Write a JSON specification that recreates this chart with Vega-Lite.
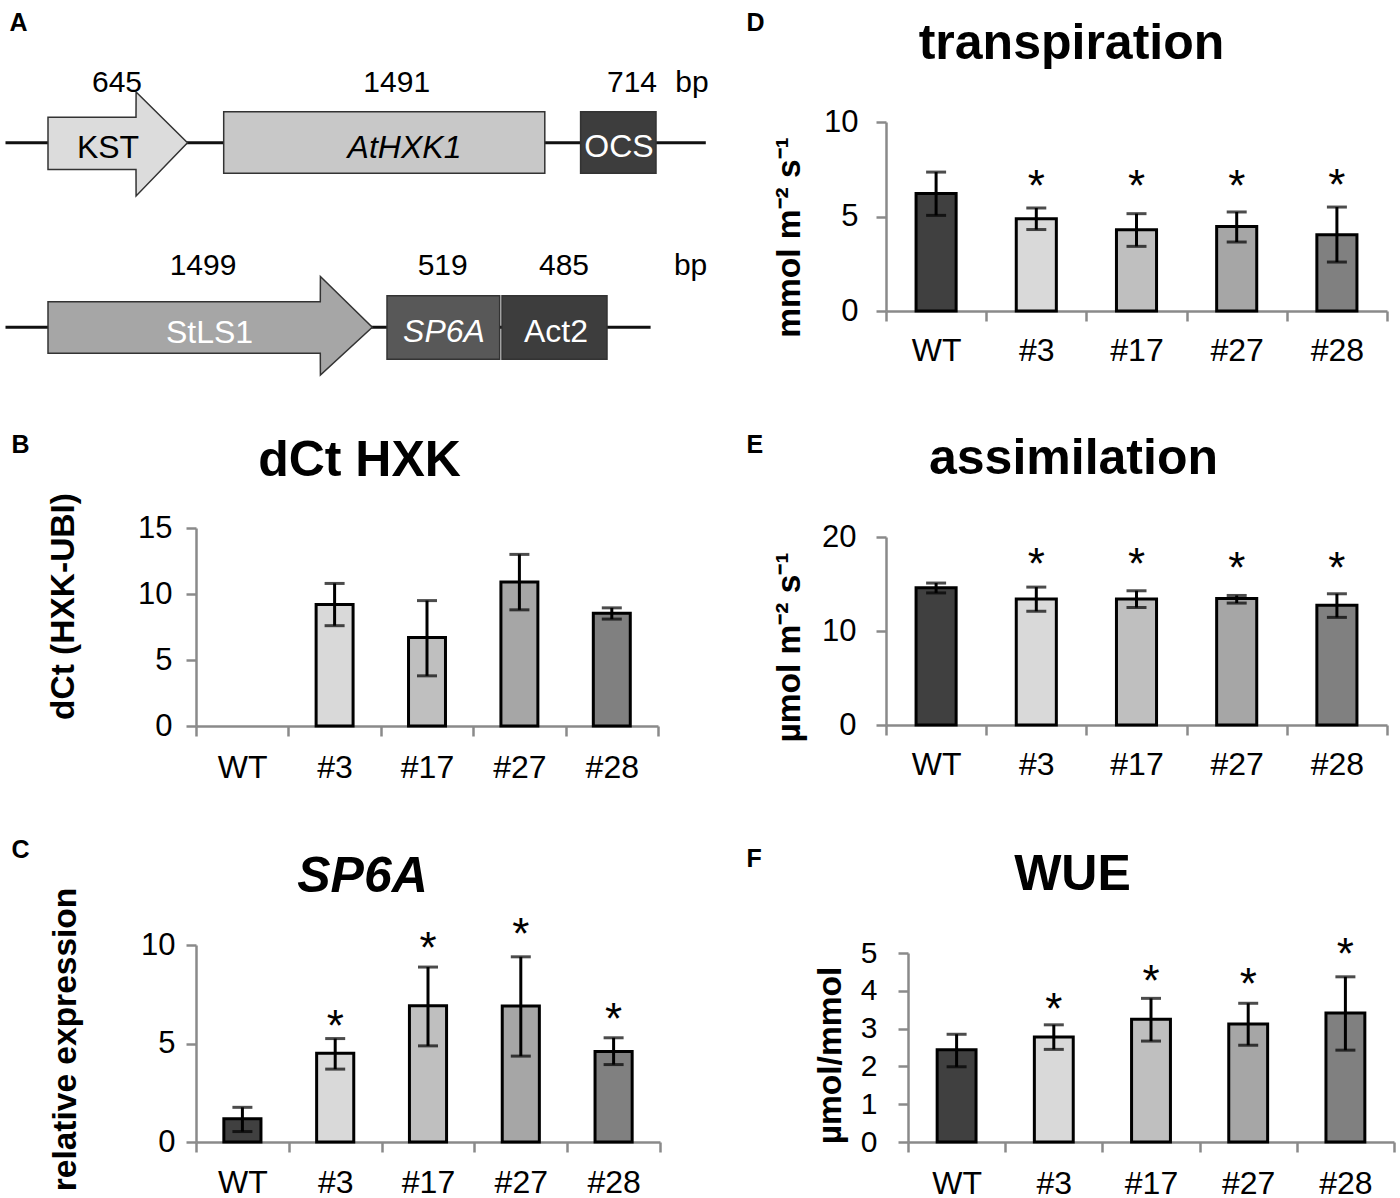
{
  "$schema": "https://vega.github.io/schema/vega-lite/v6.json",
  "background": "white",
  "padding": {"left": 4, "top": 10, "right": 5, "bottom": 5},
  "config": {
    "view": {"stroke": null},
    "font": "Liberation Sans",
    "axis": {
      "grid": false,
      "domainColor": "#8a8a8a",
      "domainWidth": 2.5,
      "tickColor": "#8a8a8a",
      "tickWidth": 2.5,
      "tickSize": 10,
      "labelFont": "Liberation Sans",
      "labelFontSize": 31,
      "labelColor": "#000",
      "labelOverlap": false,
      "labelFlush": false,
      "titleFont": "Liberation Sans",
      "titleColor": "#000",
      "titleFontWeight": "bold"
    },
    "axisX": {"labelAngle": 0, "labelFontSize": 32}
  },
  "datasets": {
    "backbone": [
      {"row": "upper", "start": 3.5, "end": 703.8, "y": 142.8},
      {"row": "lower", "start": 3.5, "end": 648.6, "y": 327.3}
    ],
    "arrows": [
      {"part": "KST", "x": 46, "top": 117.3, "bottom": 169.5},
      {"part": "KST", "x": 134, "top": 117.3, "bottom": 169.5},
      {"part": "KST", "x": 134.1, "top": 92, "bottom": 196},
      {"part": "KST", "x": 185.5, "top": 142.8, "bottom": 142.8},
      {"part": "StLS1", "x": 46, "top": 301.7, "bottom": 353.3},
      {"part": "StLS1", "x": 318.3, "top": 301.7, "bottom": 353.3},
      {"part": "StLS1", "x": 318.4, "top": 276.5, "bottom": 375},
      {"part": "StLS1", "x": 370.3, "top": 327.3, "bottom": 327.3}
    ],
    "boxes": [
      {"part": "AtHXK1", "start": 221.7, "end": 542.8, "top": 111.7, "bottom": 173.3},
      {"part": "OCS", "start": 578.6, "end": 654, "top": 111.7, "bottom": 173.3},
      {"part": "SP6A", "start": 385, "end": 497.7, "top": 295.7, "bottom": 359.3},
      {"part": "Act2", "start": 500, "end": 605, "top": 295.7, "bottom": 359.3}
    ],
    "names": [
      {"part": "KST", "x": 106, "y": 158, "italic": false},
      {"part": "AtHXK1", "x": 402.5, "y": 158, "italic": true},
      {"part": "OCS", "x": 617, "y": 157, "italic": false},
      {"part": "StLS1", "x": 207.5, "y": 343, "italic": false},
      {"part": "SP6A", "x": 442, "y": 342, "italic": true},
      {"part": "Act2", "x": 554, "y": 342, "italic": false}
    ],
    "sizes": [
      {"label": "645", "x": 115, "y": 91.7},
      {"label": "1491", "x": 394.7, "y": 91.7},
      {"label": "714", "x": 630, "y": 91.7},
      {"label": "bp", "x": 690, "y": 91.7},
      {"label": "1499", "x": 201, "y": 275},
      {"label": "519", "x": 440.7, "y": 275},
      {"label": "485", "x": 562, "y": 275},
      {"label": "bp", "x": 688.6, "y": 275}
    ],
    "dct": [
      {"line": "#3", "mean": 9.2, "lo": 7.6, "hi": 10.8},
      {"line": "#17", "mean": 6.7, "lo": 3.8, "hi": 9.5},
      {"line": "#27", "mean": 10.9, "lo": 8.8, "hi": 13.0},
      {"line": "#28", "mean": 8.55, "lo": 8.1, "hi": 8.95}
    ],
    "sp6a": [
      {"line": "WT", "mean": 1.18, "lo": 0.53, "hi": 1.76, "star": null},
      {"line": "#3", "mean": 4.5, "lo": 3.7, "hi": 5.25, "star": 6.05},
      {"line": "#17", "mean": 6.92, "lo": 4.88, "hi": 8.88, "star": 10.0},
      {"line": "#27", "mean": 6.9, "lo": 4.36, "hi": 9.4, "star": 10.7},
      {"line": "#28", "mean": 4.6, "lo": 3.93, "hi": 5.29, "star": 6.4}
    ],
    "transp": [
      {"line": "WT", "mean": 6.22, "lo": 5.06, "hi": 7.35, "star": null},
      {"line": "#3", "mean": 4.88, "lo": 4.31, "hi": 5.45, "star": 6.75},
      {"line": "#17", "mean": 4.3, "lo": 3.42, "hi": 5.15, "star": 6.75},
      {"line": "#27", "mean": 4.47, "lo": 3.65, "hi": 5.24, "star": 6.75},
      {"line": "#28", "mean": 4.04, "lo": 2.59, "hi": 5.5, "star": 6.82}
    ],
    "assim": [
      {"line": "WT", "mean": 14.6, "lo": 14.05, "hi": 15.1, "star": null},
      {"line": "#3", "mean": 13.4, "lo": 12.1, "hi": 14.67, "star": 17.4},
      {"line": "#17", "mean": 13.4, "lo": 12.5, "hi": 14.28, "star": 17.4},
      {"line": "#27", "mean": 13.47, "lo": 12.97, "hi": 13.78, "star": 17.0},
      {"line": "#28", "mean": 12.75, "lo": 11.45, "hi": 13.96, "star": 17.0}
    ],
    "wue": [
      {"line": "WT", "mean": 2.44, "lo": 1.99, "hi": 2.85, "star": null},
      {"line": "#3", "mean": 2.78, "lo": 2.45, "hi": 3.1, "star": 3.6},
      {"line": "#17", "mean": 3.25, "lo": 2.67, "hi": 3.8, "star": 4.35},
      {"line": "#27", "mean": 3.12, "lo": 2.56, "hi": 3.67, "star": 4.26},
      {"line": "#28", "mean": 3.41, "lo": 2.43, "hi": 4.37, "star": 5.06}
    ]
  },
  "columns": 2,
  "align": "none",
  "spacing": {"row": 54, "column": 34},
  "resolve": {"scale": {"color": "independent"}},
  "concat": [
    {
      "width": 516,
      "height": 250,
      "layer": [
        {
          "data": {"name": "backbone"},
          "mark": {"type": "rule", "color": "#111", "strokeWidth": 3},
          "encoding": {
            "x": {"field": "start", "type": "quantitative", "scale": {"domain": [194, 710], "nice": false, "zero": false},
                  "axis": {"orient": "top", "title": "A", "domain": false, "ticks": false, "labels": false, "titleX": -187, "titleY": -92, "titleAlign": "left", "titleBaseline": "alphabetic", "titleAngle": 0, "titleFontSize": 25}},
            "x2": {"field": "end"},
            "y": {"field": "y", "type": "quantitative", "scale": {"domain": [122, 372], "reverse": true, "nice": false, "zero": false}, "axis": null}
          }
        },
        {
          "data": {"name": "arrows"},
          "mark": {"type": "area", "stroke": "#333", "strokeWidth": 1.5, "interpolate": "linear"},
          "encoding": {
            "x": {"field": "x", "type": "quantitative", "title": "A"},
            "y": {"field": "top", "type": "quantitative", "axis": null},
            "y2": {"field": "bottom"},
            "detail": {"field": "part", "type": "nominal"},
            "color": {"field": "part", "type": "nominal", "legend": null,
                      "scale": {"domain": ["KST", "AtHXK1", "OCS", "StLS1", "SP6A", "Act2"], "range": ["#dcdcdc", "#c8c8c8", "#3d3d3d", "#a6a6a6", "#585858", "#3d3d3d"]}}
          }
        },
        {
          "data": {"name": "boxes"},
          "mark": {"type": "rect", "stroke": "#333", "strokeWidth": 1.5},
          "encoding": {
            "x": {"field": "start", "type": "quantitative", "title": "A"},
            "x2": {"field": "end"},
            "y": {"field": "top", "type": "quantitative", "axis": null},
            "y2": {"field": "bottom"},
            "color": {"field": "part", "type": "nominal", "legend": null}
          }
        },
        {
          "data": {"name": "names"},
          "transform": [{"filter": "!datum.italic"}],
          "mark": {"type": "text", "fontSize": 32, "align": "center", "baseline": "alphabetic"},
          "encoding": {
            "x": {"field": "x", "type": "quantitative", "title": "A"},
            "y": {"field": "y", "type": "quantitative", "axis": null},
            "text": {"field": "part"},
            "color": {"condition": {"test": "datum.part === 'KST'", "value": "#000"}, "value": "#fff"}
          }
        },
        {
          "data": {"name": "names"},
          "transform": [{"filter": "datum.italic"}],
          "mark": {"type": "text", "fontSize": 32, "fontStyle": "italic", "align": "center", "baseline": "alphabetic"},
          "encoding": {
            "x": {"field": "x", "type": "quantitative", "title": "A"},
            "y": {"field": "y", "type": "quantitative", "axis": null},
            "text": {"field": "part"},
            "color": {"condition": {"test": "datum.part === 'AtHXK1'", "value": "#000"}, "value": "#fff"}
          }
        },
        {
          "data": {"name": "sizes"},
          "mark": {"type": "text", "fontSize": 30, "align": "center", "baseline": "alphabetic", "color": "#000"},
          "encoding": {
            "x": {"field": "x", "type": "quantitative", "title": "A"},
            "y": {"field": "y", "type": "quantitative", "axis": null},
            "text": {"field": "label"}
          }
        }
      ]
    },
    {
      "width": 501,
      "height": 189,
      "data": {"name": "transp"},
      "encoding": {
        "x": {"field": "line", "type": "nominal", "scale": {"domain": ["WT", "#3", "#17", "#27", "#28"], "paddingInner": 0, "paddingOuter": 0}, "axis": null}
      },
      "layer": [
        {
          "mark": {"type": "bar", "width": {"band": 0.4}, "stroke": "#000", "strokeWidth": 3},
          "encoding": {
            "x": {"field": "line", "type": "nominal", "scale": {"domain": ["WT", "#3", "#17", "#27", "#28"], "paddingInner": 0, "paddingOuter": 0},
                  "axis": {"orient": "bottom", "title": "D", "titleX": -140, "titleY": -281, "titleAlign": "left", "titleBaseline": "alphabetic", "titleAngle": 0, "titleFontSize": 25, "tickBand": "extent", "labelBaseline": "alphabetic", "labelPadding": 39}},
            "y": {"field": "mean", "type": "quantitative", "scale": {"domain": [0, 10], "nice": false},
                  "axis": {"values": [0, 5, 10], "tickCount": 3, "title": "mmol m⁻² s⁻¹", "titleX": -97, "titleY": 115, "titleBaseline": "middle", "titleFontSize": 33.5, "labelPadding": 18, "labelOverlap": false}},
            "color": {"field": "line", "type": "nominal", "legend": null, "scale": {"domain": ["WT", "#3", "#17", "#27", "#28"], "range": ["#404040", "#d9d9d9", "#bfbfbf", "#a6a6a6", "#808080"]}}
          }
        },
        {
          "mark": {"type": "rule", "color": "#000", "strokeWidth": 3},
          "encoding": {
            "x": {"field": "line", "type": "nominal", "axis": {"orient": "top", "title": "transpiration", "domain": false, "ticks": false, "labels": false, "titleX": 185, "titleY": -64, "titleAlign": "center", "titleBaseline": "alphabetic", "titleFontSize": 50}},
            "y": {"field": "lo", "type": "quantitative", "title": "mmol m⁻² s⁻¹"},
            "y2": {"field": "hi"}
          }
        },
        {"mark": {"type": "tick", "color": "#000", "size": 20, "thickness": 3}, "encoding": {"y": {"field": "lo", "type": "quantitative", "title": "mmol m⁻² s⁻¹"}}},
        {"mark": {"type": "tick", "color": "#000", "size": 20, "thickness": 3}, "encoding": {"y": {"field": "hi", "type": "quantitative", "title": "mmol m⁻² s⁻¹"}}},
        {"mark": {"type": "text", "text": "*", "fontSize": 44, "baseline": "alphabetic", "dy": 18, "color": "#000"}, "encoding": {"y": {"field": "star", "type": "quantitative", "title": "mmol m⁻² s⁻¹"}}}
      ],
      "resolve": {"axis": {"x": "independent"}}
    },
    {
      "width": 462,
      "height": 198,
      "data": {"name": "dct"},
      "encoding": {
        "x": {"field": "line", "type": "nominal", "scale": {"domain": ["WT", "#3", "#17", "#27", "#28"], "paddingInner": 0, "paddingOuter": 0}, "axis": null}
      },
      "layer": [
        {
          "mark": {"type": "bar", "width": {"band": 0.4}, "stroke": "#000", "strokeWidth": 3},
          "encoding": {
            "x": {"field": "line", "type": "nominal", "scale": {"domain": ["WT", "#3", "#17", "#27", "#28"], "paddingInner": 0, "paddingOuter": 0},
                  "axis": {"orient": "bottom", "title": "B", "titleX": -185, "titleY": -274, "titleAlign": "left", "titleBaseline": "alphabetic", "titleAngle": 0, "titleFontSize": 25, "tickBand": "extent", "labelBaseline": "alphabetic", "labelPadding": 41}},
            "y": {"field": "mean", "type": "quantitative", "scale": {"domain": [0, 15], "nice": false},
                  "axis": {"values": [0, 5, 10, 15], "tickCount": 4, "title": "dCt (HXK-UBI)", "titleX": -133, "titleY": 78, "titleBaseline": "middle", "titleFontSize": 33.5, "labelPadding": 14, "labelOverlap": false}},
            "color": {"field": "line", "type": "nominal", "legend": null, "scale": {"domain": ["WT", "#3", "#17", "#27", "#28"], "range": ["#404040", "#d9d9d9", "#bfbfbf", "#a6a6a6", "#808080"]}}
          }
        },
        {
          "mark": {"type": "rule", "color": "#000", "strokeWidth": 3},
          "encoding": {
            "x": {"field": "line", "type": "nominal", "axis": {"orient": "top", "title": "dCt HXK", "domain": false, "ticks": false, "labels": false, "titleX": 163, "titleY": -53, "titleAlign": "center", "titleBaseline": "alphabetic", "titleFontSize": 50}},
            "y": {"field": "lo", "type": "quantitative", "title": "dCt (HXK-UBI)"},
            "y2": {"field": "hi"}
          }
        },
        {"mark": {"type": "tick", "color": "#000", "size": 20, "thickness": 3}, "encoding": {"y": {"field": "lo", "type": "quantitative", "title": "dCt (HXK-UBI)"}}},
        {"mark": {"type": "tick", "color": "#000", "size": 20, "thickness": 3}, "encoding": {"y": {"field": "hi", "type": "quantitative", "title": "dCt (HXK-UBI)"}}}
      ],
      "resolve": {"axis": {"x": "independent"}}
    },
    {
      "width": 501,
      "height": 188,
      "data": {"name": "assim"},
      "encoding": {
        "x": {"field": "line", "type": "nominal", "scale": {"domain": ["WT", "#3", "#17", "#27", "#28"], "paddingInner": 0, "paddingOuter": 0}, "axis": null}
      },
      "layer": [
        {
          "mark": {"type": "bar", "width": {"band": 0.4}, "stroke": "#000", "strokeWidth": 3},
          "encoding": {
            "x": {"field": "line", "type": "nominal", "scale": {"domain": ["WT", "#3", "#17", "#27", "#28"], "paddingInner": 0, "paddingOuter": 0},
                  "axis": {"orient": "bottom", "title": "E", "titleX": -140, "titleY": -273, "titleAlign": "left", "titleBaseline": "alphabetic", "titleAngle": 0, "titleFontSize": 25, "tickBand": "extent", "labelBaseline": "alphabetic", "labelPadding": 39}},
            "y": {"field": "mean", "type": "quantitative", "scale": {"domain": [0, 20], "nice": false},
                  "axis": {"values": [0, 10, 20], "tickCount": 3, "title": "µmol m⁻² s⁻¹", "titleX": -97, "titleY": 110, "titleBaseline": "middle", "titleFontSize": 33.5, "labelPadding": 20, "labelOverlap": false}},
            "color": {"field": "line", "type": "nominal", "legend": null, "scale": {"domain": ["WT", "#3", "#17", "#27", "#28"], "range": ["#404040", "#d9d9d9", "#bfbfbf", "#a6a6a6", "#808080"]}}
          }
        },
        {
          "mark": {"type": "rule", "color": "#000", "strokeWidth": 3},
          "encoding": {
            "x": {"field": "line", "type": "nominal", "axis": {"orient": "top", "title": "assimilation", "domain": false, "ticks": false, "labels": false, "titleX": 187, "titleY": -64, "titleAlign": "center", "titleBaseline": "alphabetic", "titleFontSize": 50}},
            "y": {"field": "lo", "type": "quantitative", "title": "µmol m⁻² s⁻¹"},
            "y2": {"field": "hi"}
          }
        },
        {"mark": {"type": "tick", "color": "#000", "size": 20, "thickness": 3}, "encoding": {"y": {"field": "lo", "type": "quantitative", "title": "µmol m⁻² s⁻¹"}}},
        {"mark": {"type": "tick", "color": "#000", "size": 20, "thickness": 3}, "encoding": {"y": {"field": "hi", "type": "quantitative", "title": "µmol m⁻² s⁻¹"}}},
        {"mark": {"type": "text", "text": "*", "fontSize": 44, "baseline": "alphabetic", "dy": 18, "color": "#000"}, "encoding": {"y": {"field": "star", "type": "quantitative", "title": "µmol m⁻² s⁻¹"}}}
      ],
      "resolve": {"axis": {"x": "independent"}}
    },
    {
      "width": 464,
      "height": 197,
      "data": {"name": "sp6a"},
      "encoding": {
        "x": {"field": "line", "type": "nominal", "scale": {"domain": ["WT", "#3", "#17", "#27", "#28"], "paddingInner": 0, "paddingOuter": 0}, "axis": null}
      },
      "layer": [
        {
          "mark": {"type": "bar", "width": {"band": 0.4}, "stroke": "#000", "strokeWidth": 3},
          "encoding": {
            "x": {"field": "line", "type": "nominal", "scale": {"domain": ["WT", "#3", "#17", "#27", "#28"], "paddingInner": 0, "paddingOuter": 0},
                  "axis": {"orient": "bottom", "title": "C", "titleX": -185, "titleY": -285, "titleAlign": "left", "titleBaseline": "alphabetic", "titleAngle": 0, "titleFontSize": 25, "tickBand": "extent", "labelBaseline": "alphabetic", "labelPadding": 40}},
            "y": {"field": "mean", "type": "quantitative", "scale": {"domain": [0, 10], "nice": false},
                  "axis": {"values": [0, 5, 10], "tickCount": 3, "title": "relative expression", "titleX": -131, "titleY": 94, "titleBaseline": "middle", "titleFontSize": 33.5, "labelPadding": 11, "labelOverlap": false}},
            "color": {"field": "line", "type": "nominal", "legend": null, "scale": {"domain": ["WT", "#3", "#17", "#27", "#28"], "range": ["#404040", "#d9d9d9", "#bfbfbf", "#a6a6a6", "#808080"]}}
          }
        },
        {
          "mark": {"type": "rule", "color": "#000", "strokeWidth": 3},
          "encoding": {
            "x": {"field": "line", "type": "nominal", "axis": {"orient": "top", "title": "SP6A", "domain": false, "ticks": false, "labels": false, "titleX": 166, "titleY": -54, "titleAlign": "center", "titleBaseline": "alphabetic", "titleFontSize": 50, "titleFontStyle": "italic"}},
            "y": {"field": "lo", "type": "quantitative", "title": "relative expression"},
            "y2": {"field": "hi"}
          }
        },
        {"mark": {"type": "tick", "color": "#000", "size": 20, "thickness": 3}, "encoding": {"y": {"field": "lo", "type": "quantitative", "title": "relative expression"}}},
        {"mark": {"type": "tick", "color": "#000", "size": 20, "thickness": 3}, "encoding": {"y": {"field": "hi", "type": "quantitative", "title": "relative expression"}}},
        {"mark": {"type": "text", "text": "*", "fontSize": 44, "baseline": "alphabetic", "dy": 18, "color": "#000"}, "encoding": {"y": {"field": "star", "type": "quantitative", "title": "relative expression"}}}
      ],
      "resolve": {"axis": {"x": "independent"}}
    },
    {
      "width": 486,
      "height": 189,
      "data": {"name": "wue"},
      "encoding": {
        "x": {"field": "line", "type": "nominal", "scale": {"domain": ["WT", "#3", "#17", "#27", "#28"], "paddingInner": 0, "paddingOuter": 0}, "axis": null}
      },
      "layer": [
        {
          "mark": {"type": "bar", "width": {"band": 0.4}, "stroke": "#000", "strokeWidth": 3},
          "encoding": {
            "x": {"field": "line", "type": "nominal", "scale": {"domain": ["WT", "#3", "#17", "#27", "#28"], "paddingInner": 0, "paddingOuter": 0},
                  "axis": {"orient": "bottom", "title": "F", "titleX": -162, "titleY": -276, "titleAlign": "left", "titleBaseline": "alphabetic", "titleAngle": 0, "titleFontSize": 25, "tickBand": "extent", "labelBaseline": "alphabetic", "labelPadding": 41}},
            "y": {"field": "mean", "type": "quantitative", "scale": {"domain": [0, 5], "nice": false},
                  "axis": {"values": [0, 1, 2, 3, 4, 5], "tickCount": 6, "title": "µmol/mmol", "titleX": -78, "titleY": 102, "titleBaseline": "middle", "titleFontSize": 33.5, "labelPadding": 21, "labelFontSize": 30, "labelOverlap": false}},
            "color": {"field": "line", "type": "nominal", "legend": null, "scale": {"domain": ["WT", "#3", "#17", "#27", "#28"], "range": ["#404040", "#d9d9d9", "#bfbfbf", "#a6a6a6", "#808080"]}}
          }
        },
        {
          "mark": {"type": "rule", "color": "#000", "strokeWidth": 3},
          "encoding": {
            "x": {"field": "line", "type": "nominal", "axis": {"orient": "top", "title": "WUE", "domain": false, "ticks": false, "labels": false, "titleX": 164, "titleY": -64, "titleAlign": "center", "titleBaseline": "alphabetic", "titleFontSize": 50}},
            "y": {"field": "lo", "type": "quantitative", "title": "µmol/mmol"},
            "y2": {"field": "hi"}
          }
        },
        {"mark": {"type": "tick", "color": "#000", "size": 20, "thickness": 3}, "encoding": {"y": {"field": "lo", "type": "quantitative", "title": "µmol/mmol"}}},
        {"mark": {"type": "tick", "color": "#000", "size": 20, "thickness": 3}, "encoding": {"y": {"field": "hi", "type": "quantitative", "title": "µmol/mmol"}}},
        {"mark": {"type": "text", "text": "*", "fontSize": 44, "baseline": "alphabetic", "dy": 18, "color": "#000"}, "encoding": {"y": {"field": "star", "type": "quantitative", "title": "µmol/mmol"}}}
      ],
      "resolve": {"axis": {"x": "independent"}}
    }
  ]
}
